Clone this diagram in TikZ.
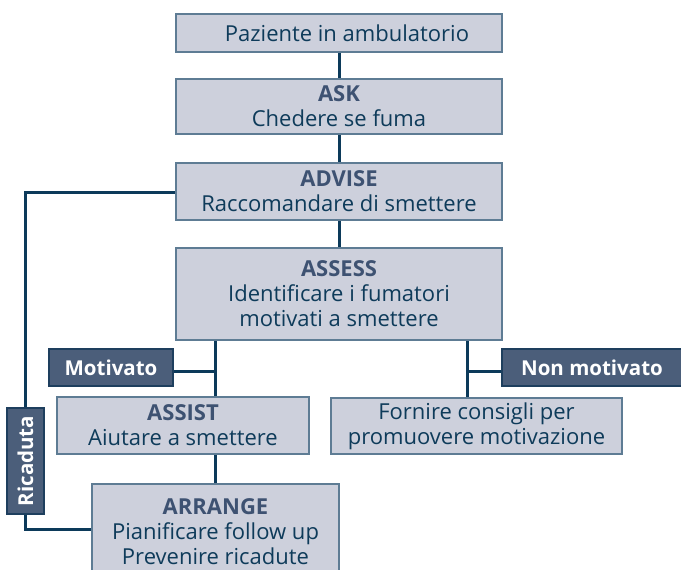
\documentclass[tikz,border=0pt]{standalone}
\usepackage{fontspec}
\setmainfont{Open Sans}
\definecolor{boxfill}{HTML}{CDD0DC}
\definecolor{boxedge}{HTML}{5E7C94}
\definecolor{darkfill}{HTML}{4B5E7A}
\definecolor{darkedge}{HTML}{1E3F5E}
\definecolor{linecol}{HTML}{0C3A5A}
\definecolor{txtcol}{HTML}{0E3B5A}
\definecolor{titlecol}{HTML}{3E5272}
\tikzset{
  lightbox/.style={draw=boxedge, fill=boxfill, line width=1.2pt, inner sep=0pt,
    align=center, text=txtcol, font=\fontsize{22}{25}\selectfont},
  darkbox/.style={draw=darkedge, fill=darkfill, line width=1.2pt, inner sep=0pt,
    text=white, font=\fontsize{20.5}{25}\selectfont\bfseries},
  conn/.style={draw=linecol, line width=3pt},
}
\newcommand{\ttl}[1]{{\bfseries\color{titlecol}#1}}
\begin{document}
\begin{tikzpicture}[x=1pt,y=-1pt]
\useasboundingbox (0,0) rectangle (681,570);
\clip (0,0) rectangle (681,570);
\coordinate (mv) at (215,371);
\coordinate (nv) at (467,371);
\coordinate (lp) at (25,192);
\coordinate (lb) at (25,529);
\node[lightbox, minimum width=326pt, minimum height=38pt] (paz) at (339,33) {\hspace*{16pt}Paziente in ambulatorio};
\node[lightbox, minimum width=326pt, minimum height=55pt] (ask) at (339,106.5) {\ttl{ASK}\\Chedere se fuma};
\node[lightbox, minimum width=326pt, minimum height=57pt] (adv) at (339,191.5) {\ttl{ADVISE}\\Raccomandare di smettere};
\node[lightbox, minimum width=326pt, minimum height=92pt] (ass) at (339,294) {\ttl{ASSESS}\\Identificare i fumatori\\motivati a smettere};
\node[darkbox, minimum width=124pt, minimum height=37pt] (mot) at (111,367.5) {Motivato};
\node[darkbox, minimum width=180pt, minimum height=37pt] (nmot) at (592,367.5) {Non motivato};
\node[lightbox, minimum width=252pt, minimum height=57pt] (assist) at (183,425.5) {\ttl{ASSIST}\\Aiutare a smettere};
\node[lightbox, minimum width=291pt, minimum height=56pt] (forn) at (476.5,426) {Fornire consigli per\\promuovere motivazione};
\node[darkbox, minimum width=106pt, minimum height=37pt, rotate=90] (ric) at (25.5,461) {Ricaduta};
\node[lightbox, minimum width=247pt, minimum height=96pt] (arr) at (215.5,532) {\ttl{ARRANGE}\\Pianificare follow up\\Prevenire ricadute};
% connectors
\draw[conn] (paz.south) -- (ask.north);
\draw[conn] (ask.south) -- (adv.north);
\draw[conn] (adv.south) -- (ass.north);
\draw[conn] (ass.south -| mv) -- (assist.north -| mv);
\draw[conn] (mot.east |- mv) -- (mv);
\draw[conn] (assist.south -| mv) -- (arr.north -| mv);
\draw[conn] (ass.south -| nv) -- (forn.north -| nv);
\draw[conn] (nv) -- (nmot.west |- nv);
\draw[conn] (adv.west |- lp) -- (lp) -- (ric.east -| lp);
\draw[conn] (ric.west -| lb) -- (lb) -- (arr.west |- lb);
\foreach \n in {paz,ask,adv,ass,assist,forn,arr}{\draw[boxedge, line width=1.2pt] (\n.north west) rectangle (\n.south east);}
\foreach \n in {mot,nmot}{\draw[darkedge, line width=1.2pt] (\n.north west) rectangle (\n.south east);}
\end{tikzpicture}
\end{document}
